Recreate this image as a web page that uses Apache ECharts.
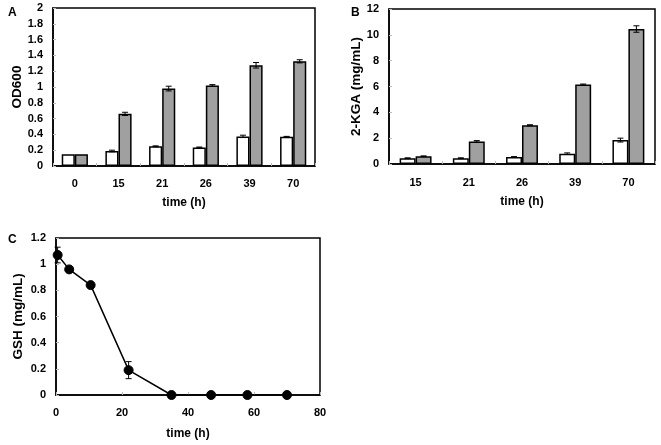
<!DOCTYPE html>
<html><head><meta charset="utf-8">
<script src="https://cdn.jsdelivr.net/npm/echarts@6/dist/echarts.min.js"></script>
<style>html,body{margin:0;padding:0;background:#fff}#c{width:661px;height:445px}</style>
</head><body><div id="c"></div>
<script>
// Panel A
const catsA = ['0','15','21','26','39','70'];
const whiteA = [0.15, 0.19, 0.25, 0.235, 0.375, 0.37];
const whiteAErr = [0, 0.01, 0.005, 0.005, 0.015, 0.005];
const greyA = [0.15, 0.66, 0.98, 1.02, 1.275, 1.325];
const greyAErr = [0, 0.02, 0.03, 0.01, 0.035, 0.02];
// Panel B
const catsB = ['15','21','26','39','70'];
const whiteB = [0.45, 0.45, 0.55, 0.8, 1.85];
const whiteBErr = [0.03, 0.03, 0.02, 0.06, 0.15];
const greyB = [0.6, 1.75, 3.0, 6.15, 10.45];
const greyBErr = [0.03, 0.06, 0.04, 0.04, 0.25];
// Panel C
const timeC = [0.5, 4, 10.5, 22, 35, 47, 58, 70];
const gshC = [1.07, 0.96, 0.84, 0.19, 0, 0, 0, 0];
const gshCErr = [0.06, 0.02, 0.01, 0.065, 0, 0, 0, 0];

const FONT = 'Liberation Sans, Arial, sans-serif';
const chart = echarts.init(document.getElementById('c'));

function errSeries(xi, yi, vals, errs, side) {
  const data = vals.map((v, i) => [i, v, errs[i]]);
  return {
    type: 'custom', xAxisIndex: xi, yAxisIndex: yi, z: 10, silent: true,
    data: data,
    renderItem: function (params, api) {
      const i = api.value(0), v = api.value(1), e = api.value(2);
      if (!e) return;
      const band = api.size([1, 0])[0];
      const c = api.coord([i, v]);
      const x = c[0] + side * band * 0.15;
      const top = api.coord([i, v + e])[1];
      const bot = api.coord([i, v - e])[1];
      const cap = 3;
      const st = {stroke: '#000', lineWidth: 1};
      return {type: 'group', children: [
        {type: 'line', shape: {x1: x, y1: top, x2: x, y2: bot}, style: st},
        {type: 'line', shape: {x1: x - cap, y1: top, x2: x + cap, y2: top}, style: st},
        {type: 'line', shape: {x1: x - cap, y1: bot, x2: x + cap, y2: bot}, style: st}
      ]};
    }
  };
}
function errSeriesVal(xi, yi, xs, vals, errs) {
  const data = vals.map((v, i) => [xs[i], v, errs[i]]);
  return {
    type: 'custom', xAxisIndex: xi, yAxisIndex: yi, z: 1, silent: true,
    data: data,
    renderItem: function (params, api) {
      const xv = api.value(0), v = api.value(1), e = api.value(2);
      if (!e) return;
      const x = api.coord([xv, v])[0];
      const top = api.coord([xv, v + e])[1];
      const bot = api.coord([xv, v - e])[1];
      const cap = 3;
      const st = {stroke: '#000', lineWidth: 1};
      return {type: 'group', children: [
        {type: 'line', shape: {x1: x, y1: top, x2: x, y2: bot}, style: st},
        {type: 'line', shape: {x1: x - cap, y1: top, x2: x + cap, y2: top}, style: st},
        {type: 'line', shape: {x1: x - cap, y1: bot, x2: x + cap, y2: bot}, style: st}
      ]};
    }
  };
}

const axLabel = {color: '#000', fontWeight: 'bold', fontSize: 11, fontFamily: FONT};
const nameStyleX = {color: '#000', fontWeight: 'bold', fontSize: 12, fontFamily: FONT};
const nameStyleY = {color: '#000', fontWeight: 'bold', fontSize: 13.5, fontFamily: FONT};
const axLine = {show: true, lineStyle: {color: '#000', width: 1.5}};
const tick = {show: true, inside: true, length: 3, lineStyle: {color: '#bbb'}};
const gridBase = {show: true, borderColor: '#000', borderWidth: 1.5, backgroundColor: 'transparent'};
const barStyleW = {color: '#fff', borderColor: '#000', borderWidth: 1.5};
const barStyleG = {color: '#a0a0a0', borderColor: '#000', borderWidth: 1.5};
const ttl = {fontSize: 12, fontWeight: 'bold', color: '#000', fontFamily: FONT};

chart.setOption({
  animation: false,
  textStyle: {fontFamily: FONT},
  title: [
    {text: 'A', left: 3, top: 2, textStyle: ttl},
    {text: 'B', left: 346, top: 2, textStyle: ttl},
    {text: 'C', left: 3, top: 229, textStyle: ttl}
  ],
  grid: [
    Object.assign({left: 53, right: 346, top: 8, bottom: 279}, gridBase),
    Object.assign({left: 389, right: 6, top: 9, bottom: 281}, gridBase),
    Object.assign({left: 56, right: 341, top: 238, bottom: 50}, gridBase)
  ],
  xAxis: [
    {type: 'category', gridIndex: 0, data: catsA, name: 'time (h)', nameLocation: 'middle', nameGap: 31,
     nameTextStyle: nameStyleX, axisLabel: Object.assign({margin: 12}, axLabel), axisLine: axLine,
     axisTick: tick},
    {type: 'category', gridIndex: 1, data: catsB, name: 'time (h)', nameLocation: 'middle', nameGap: 32,
     nameTextStyle: nameStyleX, axisLabel: Object.assign({margin: 13}, axLabel), axisLine: axLine,
     axisTick: tick},
    {type: 'value', gridIndex: 2, min: 0, max: 80, interval: 20, name: 'time (h)', nameLocation: 'middle', nameGap: 33,
     nameTextStyle: nameStyleX, axisLabel: Object.assign({margin: 12}, axLabel), axisLine: axLine,
     axisTick: tick, splitLine: {show: false}}
  ],
  yAxis: [
    {type: 'value', gridIndex: 0, min: 0, max: 2, interval: 0.2, name: 'OD600', nameLocation: 'middle', nameGap: 28,
     nameTextStyle: nameStyleY, axisLabel: Object.assign({margin: 10}, axLabel), axisLine: axLine,
     axisTick: tick, splitLine: {show: false}},
    {type: 'value', gridIndex: 1, min: 0, max: 12, interval: 2, name: '2-KGA (mg/mL)', nameLocation: 'middle', nameGap: 19,
     nameTextStyle: nameStyleY, axisLabel: Object.assign({margin: 10}, axLabel), axisLine: axLine,
     axisTick: tick, splitLine: {show: false}},
    {type: 'value', gridIndex: 2, min: 0, max: 1.2, interval: 0.2, name: 'GSH (mg/mL)', nameLocation: 'middle', nameGap: 31,
     nameTextStyle: nameStyleY, axisLabel: Object.assign({margin: 10}, axLabel), axisLine: axLine,
     axisTick: tick, splitLine: {show: false}}
  ],
  series: [
    {type: 'bar', xAxisIndex: 0, yAxisIndex: 0, data: whiteA, itemStyle: barStyleW, barGap: '0%', barCategoryGap: '40%'},
    {type: 'bar', xAxisIndex: 0, yAxisIndex: 0, data: greyA, itemStyle: barStyleG, barGap: '0%', barCategoryGap: '40%'},
    errSeries(0, 0, whiteA, whiteAErr, -1),
    errSeries(0, 0, greyA, greyAErr, 1),
    {type: 'bar', xAxisIndex: 1, yAxisIndex: 1, data: whiteB, itemStyle: barStyleW, barGap: '0%', barCategoryGap: '40%'},
    {type: 'bar', xAxisIndex: 1, yAxisIndex: 1, data: greyB, itemStyle: barStyleG, barGap: '0%', barCategoryGap: '40%'},
    errSeries(1, 1, whiteB, whiteBErr, -1),
    errSeries(1, 1, greyB, greyBErr, 1),
    errSeriesVal(2, 2, timeC, gshC, gshCErr),
    {type: 'line', xAxisIndex: 2, yAxisIndex: 2, z: 5, data: timeC.map((t, i) => [t, gshC[i]]),
     symbol: 'circle', symbolSize: 9, lineStyle: {color: '#000', width: 1.5},
     itemStyle: {color: '#000', borderColor: '#000'}}
  ]
});
</script></body></html>
